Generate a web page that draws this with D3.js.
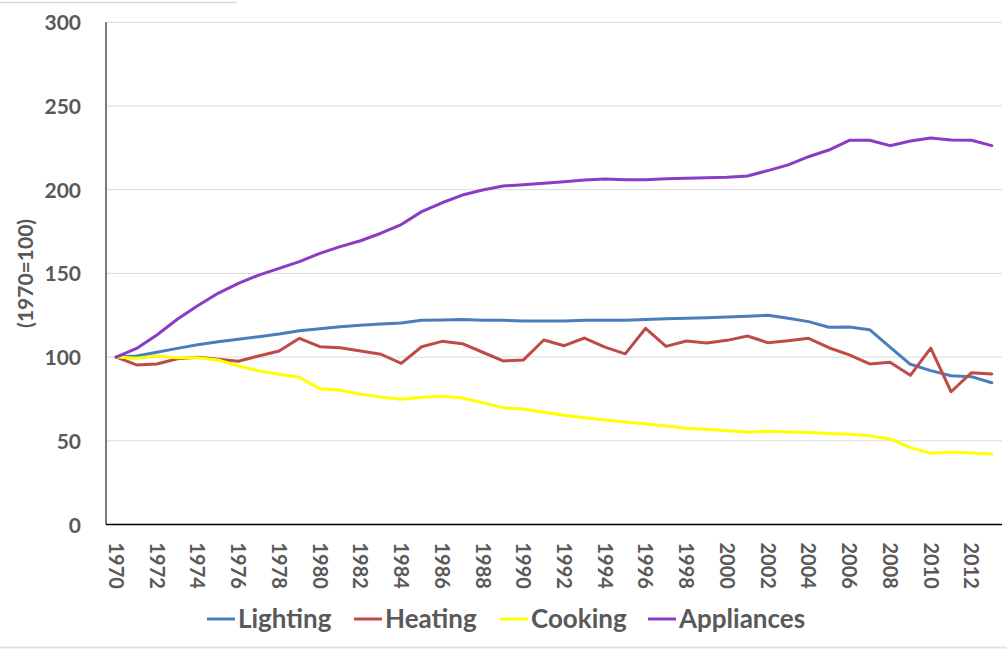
<!DOCTYPE html>
<html>
<head>
<meta charset="utf-8">
<script src="https://cdn.jsdelivr.net/npm/d3@7"></script>
<style>
  html, body { margin: 0; padding: 0; background: #fff; }
  svg { display: block; }
  text { font-family: Lato, "Open Sans", sans-serif; font-weight: bold; fill: #595959; }
</style>
</head>
<body>
<svg id="chart" width="1007" height="649"></svg>
<script>
const years = d3.range(1970, 2014);
const yTicks = [0, 50, 100, 150, 200, 250, 300];
const xTickLabels = d3.range(1970, 2014, 2);
const yTitle = "(1970=100)";

const lighting = [100, 100.7, 102.9, 105.2, 107.4, 109.2, 110.6, 112.2, 113.8, 115.8,
  117, 118.2, 119, 119.8, 120.4, 122, 122.2, 122.4, 122, 122,
  121.6, 121.6, 121.6, 122, 122, 122, 122.4, 122.9, 123.2, 123.5,
  124, 124.4, 125, 123.2, 121.2, 117.8, 118, 116.4, 106, 95.7,
  91.9, 88.9, 88.3, 84.7];
const heating = [100, 95.3, 95.9, 99, 99.9, 98.7, 97.5, 100.7, 103.6, 111.2,
  106.2, 105.6, 103.6, 101.7, 96.3, 106.2, 109.4, 108, 102.9, 97.7,
  98.3, 110.2, 106.8, 111.4, 106, 101.9, 117.2, 106.4, 109.6, 108.4,
  110, 112.6, 108.6, 109.8, 111.2, 105.6, 101.3, 95.9, 96.9, 89.1,
  105.4, 79.3, 90.7, 89.9];
const cooking = [100, 99.3, 100.7, 99.6, 99.6, 98.3, 94.7, 91.7, 89.7, 87.9,
  81.1, 80.2, 77.8, 76.2, 74.8, 76, 76.6, 75.6, 72.8, 69.8,
  69, 67, 65.2, 63.8, 62.4, 61.2, 60, 58.8, 57.5, 56.9,
  56, 55.3, 55.7, 55.3, 54.9, 54.3, 53.9, 53, 51.1, 45.9,
  42.5, 43.1, 42.7, 42.1];
const appliances = [100, 105.2, 113.2, 122.6, 130.7, 138.1, 144, 149, 153, 157,
  162, 166, 169.5, 174, 179.2, 186.9, 192.2, 196.8, 199.8, 202.2,
  203, 203.8, 204.8, 205.8, 206.4, 206, 206, 206.5, 206.8, 207.2,
  207.4, 208.2, 211.4, 214.8, 219.7, 223.7, 229.5, 229.5, 226.3, 229.1,
  230.9, 229.7, 229.5, 226.3];

const seriesNames = ["Lighting", "Heating", "Cooking", "Appliances"];
const seriesValues = [lighting, heating, cooking, appliances];
const seriesColors = ["#4A7EBB", "#BE4B48", "#FFFF00", "#8B3CC6"];

const svg = d3.select("#chart");
const pLeft = 106, pRight = 1002, pTop = 22.3, pBottom = 524.5;

const x = d3.scaleBand().domain(years).range([pLeft, pRight]).padding(0);
const cx = d => x(d) + x.bandwidth() / 2;
const y = d3.scaleLinear().domain([0, 300]).range([pBottom, pTop]);

// frame decorations
svg.append("line").attr("x1", 0).attr("x2", 237).attr("y1", 2.5).attr("y2", 2.5)
  .attr("stroke", "#d9d9d9").attr("stroke-width", 1.5);
svg.append("line").attr("x1", 0).attr("x2", 1007).attr("y1", 647.5).attr("y2", 647.5)
  .attr("stroke", "#e3e3e3").attr("stroke-width", 2);

// gridlines
svg.append("g").selectAll("line").data(yTicks.filter(t => t > 0)).join("line")
  .attr("x1", pLeft).attr("x2", pRight)
  .attr("y1", d => y(d)).attr("y2", d => y(d))
  .attr("stroke", "#d9d9d9").attr("stroke-width", 1);

// y axis
const yAxis = d3.axisLeft(y).tickValues(yTicks).tickSize(0).tickPadding(25);
const gy = svg.append("g").attr("transform", `translate(${pLeft},0)`).call(yAxis);
gy.select(".domain").remove();
gy.selectAll("text").attr("font-size", 21).attr("dy", "0.36em")
  .style("font-family", "Lato, sans-serif").style("font-weight", "bold").attr("fill", "#595959");

// axis lines
svg.append("line").attr("x1", pLeft).attr("x2", pLeft).attr("y1", pTop).attr("y2", pBottom)
  .attr("stroke", "#262626").attr("stroke-width", 1.2);
svg.append("line").attr("x1", pLeft).attr("x2", pRight).attr("y1", pBottom).attr("y2", pBottom)
  .attr("stroke", "#000").attr("stroke-width", 1.5);

// x axis labels
const xAxis = d3.axisBottom(x).tickValues(xTickLabels).tickSize(0).tickPadding(0);
const gx = svg.append("g").attr("transform", `translate(0,${pBottom})`).call(xAxis);
gx.select(".domain").remove();
gx.selectAll("text")
  .attr("font-size", 20)
  .attr("text-anchor", "start")
  .attr("transform", "translate(0,18) rotate(90)")
  .attr("x", 0).attr("y", 0).attr("dy", "0.36em")
  .style("font-family", "Lato, sans-serif").style("font-weight", "bold").attr("fill", "#595959");

// y title
svg.append("text")
  .attr("transform", `translate(25,${(pTop + pBottom) / 2}) rotate(-90)`)
  .attr("text-anchor", "middle").attr("dy", "0.36em")
  .attr("font-size", 21).text(yTitle);

// lines
const line = d3.line().x((d, i) => cx(years[i])).y(d => y(d));
svg.append("g").selectAll("path").data(seriesValues).join("path")
  .attr("d", d => line(d))
  .attr("fill", "none")
  .attr("stroke", (d, i) => seriesColors[i])
  .attr("stroke-width", 3)
  .attr("stroke-linejoin", "round")
  .attr("stroke-linecap", "round");

// legend
const legendX = [207, 354, 500, 648];
const legendY = 619;
const lg = svg.append("g");
seriesNames.forEach((name, i) => {
  lg.append("line").attr("x1", legendX[i]).attr("x2", legendX[i] + 28)
    .attr("y1", legendY).attr("y2", legendY)
    .attr("stroke", seriesColors[i]).attr("stroke-width", 3);
  lg.append("text").attr("x", legendX[i] + 31).attr("y", legendY).attr("dy", "0.36em")
    .attr("font-size", 26).text(name);
});
</script>
</body>
</html>
